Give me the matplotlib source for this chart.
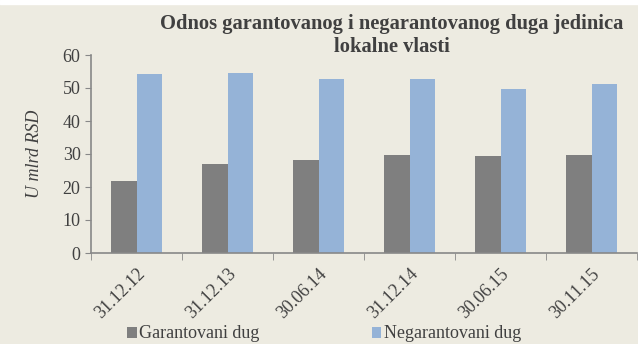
import matplotlib.pyplot as plt
import numpy as np

dates = ['31.12.12', '31.12.13', '30.06.14', '31.12.14', '30.06.15', '30.11.15']
garantovani = [21.8, 27.0, 28.1, 29.6, 29.4, 29.7]
negarantovani = [54.2, 54.5, 52.7, 52.7, 49.6, 51.3]

bg = '#EDEBE1'
plt.rcParams['font.family'] = ['Liberation Serif', 'DejaVu Serif']

fig = plt.figure(figsize=(6.38, 3.44), dpi=100, facecolor=bg)
ax = fig.add_axes([91 / 638, 1 - 253 / 344, (637 - 91) / 638, (253 - 55) / 344])
ax.set_facecolor(bg)

x = np.arange(len(dates))
w = 0.285
ax.bar(x - w / 2, garantovani, w, color='#7F7F7F', label='Garantovani dug')
ax.bar(x + w / 2, negarantovani, w, color='#95B3D7', label='Negarantovani dug')

ax.set_xlim(-0.5, len(dates) - 0.5)
ax.set_ylim(0, 60)
ax.set_yticks(range(0, 61, 10))
ax.tick_params(axis='y', labelsize=13, colors='#404040', length=4, color='#888888')
ax.set_xticks(x)
ax.set_xticklabels(dates, rotation=45, ha='right', rotation_mode='anchor', fontsize=13, color='#404040')
ax.tick_params(axis='x', which='major', length=0, pad=9)
ax.set_xticks(np.arange(-0.5, len(dates)), minor=True)
ax.tick_params(axis='x', which='minor', length=5, color='#888888')

for s in ['top', 'right']:
    ax.spines[s].set_visible(False)
for s in ['left', 'bottom']:
    ax.spines[s].set_color('#888888')
    ax.spines[s].set_linewidth(1.2)

ax.set_ylabel('U mlrd RSD', fontstyle='italic', fontsize=13, color='#404040', labelpad=14)

fig.text(392 / 638, 1 - 35 / 344, 'Odnos garantovanog i negarantovanog duga jedinica\nlokalne vlasti',
         ha='center', va='center', fontsize=14.8, fontweight='bold', color='#404040', linespacing=1.2)

fig.legend(loc='center', bbox_to_anchor=(324 / 638, 1 - 334 / 344), ncol=2, frameon=False,
           fontsize=13, labelcolor='#404040', handlelength=0.55, handleheight=0.55,
           handletextpad=0.15, columnspacing=6.2)

# white strip along the top edge
fig.add_artist(plt.Rectangle((0, 1 - 4 / 344), 1, 4 / 344, transform=fig.transFigure,
                             color='white', zorder=0))

fig.savefig('out.png', dpi=100, facecolor=bg)
